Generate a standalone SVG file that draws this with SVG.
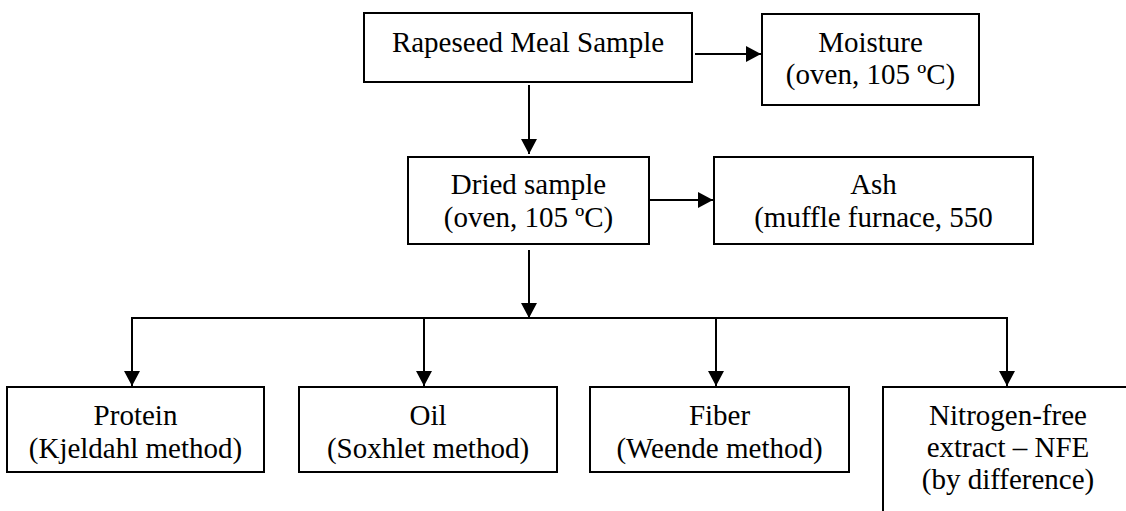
<svg xmlns="http://www.w3.org/2000/svg" width="1126" height="511" viewBox="0 0 1126 511">
<style>
.box{fill:#fff;stroke:#000;stroke-width:2}
.t{font-family:"Times New Roman",Times,"Liberation Serif","Noto Serif","DejaVu Serif",Tinos,FreeSerif,serif;font-size:29px;fill:#000;text-anchor:middle}
.c{fill:none;stroke:#000;stroke-width:2}
</style>
<defs>
<marker id="ah" viewBox="0 0 15 16" refX="15" refY="8" markerWidth="15" markerHeight="16" markerUnits="userSpaceOnUse" orient="auto">
<path d="M0,0 L15,8 L0,16 z" fill="#000"/>
</marker>
</defs>
<rect width="1126" height="511" fill="#fff"/>
<g id="connectors">
<line class="c" x1="695" y1="54" x2="761" y2="54" marker-end="url(#ah)"/>
<line class="c" x1="529" y1="85" x2="529" y2="154" marker-end="url(#ah)"/>
<line class="c" x1="650" y1="200" x2="713" y2="200" marker-end="url(#ah)"/>
<line class="c" x1="529" y1="250" x2="529" y2="318" marker-end="url(#ah)"/>
<polyline class="c" points="132,386 132,318 1007,318 1007,386" marker-end="url(#ah)"/>
<line class="c" x1="132" y1="318" x2="132" y2="386" marker-end="url(#ah)"/>
<line class="c" x1="424" y1="318" x2="424" y2="386" marker-end="url(#ah)"/>
<line class="c" x1="716" y1="318" x2="716" y2="386" marker-end="url(#ah)"/>
</g>
<g id="rapeseed">
<rect class="box" x="364" y="13" width="328" height="69"/>
<text class="t" x="528" y="52">Rapeseed Meal Sample</text>
</g>
<g id="moisture">
<rect class="box" x="762" y="14" width="217" height="91"/>
<text class="t" x="870.5" y="52">Moisture</text>
<text class="t" x="870.5" y="84">(oven, 105 ºC)</text>
</g>
<g id="dried">
<rect class="box" x="408" y="157" width="241" height="87"/>
<text class="t" x="528.5" y="194">Dried sample</text>
<text class="t" x="528.5" y="227">(oven, 105 ºC)</text>
</g>
<g id="ash">
<rect class="box" x="714" y="157" width="319" height="87"/>
<text class="t" x="873.5" y="194">Ash</text>
<text class="t" x="873.5" y="227">(muffle furnace, 550</text>
</g>
<g id="protein">
<rect class="box" x="7" y="387" width="257" height="85"/>
<text class="t" x="135.5" y="425">Protein</text>
<text class="t" x="135.5" y="458">(Kjeldahl method)</text>
</g>
<g id="oil">
<rect class="box" x="299" y="387" width="258" height="85"/>
<text class="t" x="428" y="425">Oil</text>
<text class="t" x="428" y="458">(Soxhlet method)</text>
</g>
<g id="fiber">
<rect class="box" x="590" y="387" width="259" height="85"/>
<text class="t" x="719.5" y="425">Fiber</text>
<text class="t" x="719.5" y="458">(Weende method)</text>
</g>
<g id="nfe">
<path class="c" d="M883,520 L883,387 L1140,387"/>
<text class="t" x="1008" y="425">Nitrogen-free</text>
<text class="t" x="1008" y="457">extract – NFE</text>
<text class="t" x="1008" y="489">(by difference)</text>
</g>
</svg>
